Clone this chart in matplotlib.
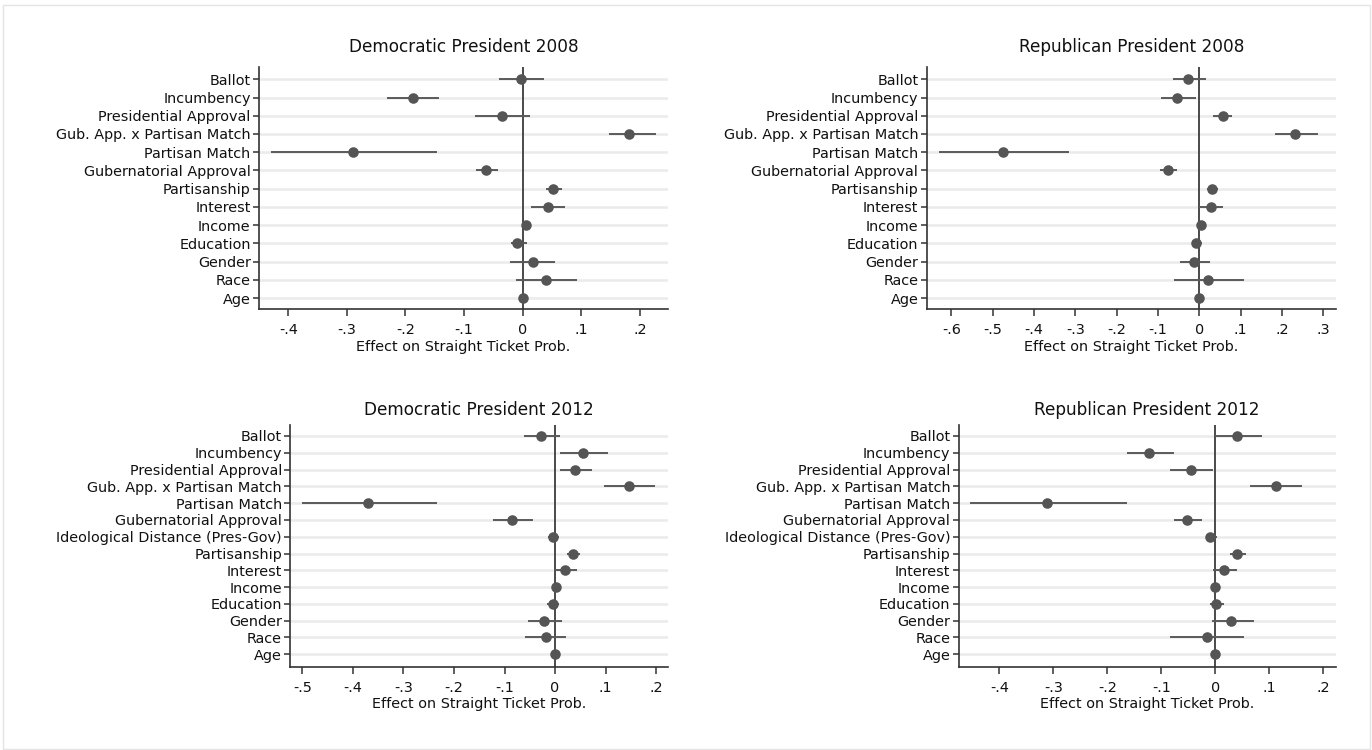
import matplotlib
matplotlib.use("Agg")
import matplotlib.pyplot as plt
from matplotlib.patches import Rectangle

plt.rcParams['font.family'] = ['DejaVu Sans']

# ---------------- data ----------------
labels_2008 = ["Ballot", "Incumbency", "Presidential Approval", "Gub. App. x Partisan Match",
               "Partisan Match", "Gubernatorial Approval", "Partisanship", "Interest",
               "Income", "Education", "Gender", "Race", "Age"]
labels_2012 = ["Ballot", "Incumbency", "Presidential Approval", "Gub. App. x Partisan Match",
               "Partisan Match", "Gubernatorial Approval", "Ideological Distance (Pres-Gov)",
               "Partisanship", "Interest", "Income", "Education", "Gender", "Race", "Age"]

dem08_est = [-0.003, -0.188, -0.035, 0.182, -0.289, -0.062, 0.052, 0.043, 0.006, -0.009, 0.017, 0.040, 0.000]
dem08_lo = [-0.041, -0.232, -0.081, 0.148, -0.430, -0.079, 0.039, 0.015, 0.002, -0.020, -0.022, -0.011, -0.002]
dem08_hi = [0.036, -0.142, 0.013, 0.228, -0.146, -0.042, 0.067, 0.073, 0.012, 0.007, 0.055, 0.093, 0.002]

rep08_est = [-0.027, -0.053, 0.056, 0.232, -0.476, -0.077, 0.030, 0.027, 0.004, -0.007, -0.014, 0.021, 0.000]
rep08_lo = [-0.065, -0.093, 0.034, 0.183, -0.630, -0.095, 0.019, -0.002, -0.002, -0.017, -0.048, -0.061, -0.002]
rep08_hi = [0.015, -0.009, 0.079, 0.286, -0.316, -0.053, 0.044, 0.058, 0.010, 0.006, 0.026, 0.108, 0.002]

dem12_est = [-0.027, 0.056, 0.040, 0.147, -0.370, -0.085, -0.005, 0.036, 0.020, 0.001, -0.005, -0.022, -0.018, -0.001]
dem12_lo = [-0.061, 0.010, 0.010, 0.097, -0.501, -0.122, -0.013, 0.024, -0.003, -0.004, -0.015, -0.053, -0.059, -0.003]
dem12_hi = [0.010, 0.104, 0.073, 0.197, -0.234, -0.044, 0.007, 0.050, 0.043, 0.006, 0.008, 0.013, 0.022, 0.001]

rep12_est = [0.041, -0.122, -0.044, 0.112, -0.312, -0.052, -0.009, 0.041, 0.017, 0.000, 0.002, 0.030, -0.015, 0.000]
rep12_lo = [0.000, -0.164, -0.083, 0.065, -0.454, -0.076, -0.017, 0.027, -0.004, -0.006, -0.009, -0.006, -0.083, -0.002]
rep12_hi = [0.086, -0.076, -0.004, 0.160, -0.164, -0.024, 0.003, 0.057, 0.041, 0.006, 0.017, 0.071, 0.054, 0.002]

titles = ["Democratic President 2008", "Republican President 2008",
          "Democratic President 2012", "Republican President 2012"]
xticks_dem08 = [-0.4, -0.3, -0.2, -0.1, 0, 0.1, 0.2]
xticks_rep08 = [-0.6, -0.5, -0.4, -0.3, -0.2, -0.1, 0, 0.1, 0.2, 0.3]
xticks_dem12 = [-0.5, -0.4, -0.3, -0.2, -0.1, 0, 0.1, 0.2]
xticks_rep12 = [-0.4, -0.3, -0.2, -0.1, 0, 0.1, 0.2]
xlabel = "Effect on Straight Ticket Prob."

W, H = 1372, 750
fig = plt.figure(figsize=(W / 100, H / 100), dpi=100)
fig.patch.set_facecolor("white")
fig.patches.append(Rectangle((3 / W, 1 - 749 / H), (1370 - 3) / W, (749 - 5) / H,
                             transform=fig.transFigure, fill=False,
                             edgecolor="#e4e4e4", linewidth=1.0))


def px_axes(left, right, top, bottom):
    return fig.add_axes([left / W, 1 - bottom / H, (right - left) / W, (bottom - top) / H])


def fmt(v):
    if abs(v) < 1e-9:
        return "0"
    s = "%.1f" % v
    return s.replace("0.", ".")


dot_color = "#555555"
line_color = "#5a5a5a"
FS = 10.4


def draw(ax, labels, est, lo, hi, xticks, xlim, ylim, title, tpad):
    n = len(labels)
    ys = list(range(n))
    for y in ys:
        ax.axhline(y, color="#ebebeb", linewidth=1.8, zorder=0)
    ax.axvline(0, color="#3c3c3c", linewidth=1.3, zorder=1)
    xerr = [[e - l for e, l in zip(est, lo)], [h - e for e, h in zip(est, hi)]]
    ax.errorbar(est, ys, xerr=xerr, fmt="o", color=dot_color, ecolor=line_color,
                elinewidth=1.4, capsize=4.2, capthick=1.3, markersize=7.6,
                markeredgewidth=0, zorder=3)
    ax.set_xlim(*xlim)
    ax.set_ylim(*ylim)
    ax.set_yticks(ys)
    ax.set_yticklabels(labels, fontsize=FS, color="#111111")
    ax.set_xticks(xticks)
    ax.set_xticklabels([fmt(v) for v in xticks], fontsize=FS, color="#111111")
    ax.set_xlabel(xlabel, fontsize=FS, color="#111111", labelpad=2)
    ax.set_title(title, fontsize=12.2, color="#111111", pad=tpad)
    for s in ["top", "right"]:
        ax.spines[s].set_visible(False)
    for s in ["left", "bottom"]:
        ax.spines[s].set_color("#333333")
        ax.spines[s].set_linewidth(1.2)
    ax.tick_params(axis="y", length=4, width=1.1, color="#333333", pad=2)
    ax.tick_params(axis="x", length=5, width=1.1, color="#333333", pad=5)


ax1 = px_axes(259, 668, 67, 309.3)
draw(ax1, labels_2008, dem08_est, dem08_lo, dem08_hi, xticks_dem08,
     (-0.45, 0.248), (12.62, -0.675), titles[0], 11)

ax2 = px_axes(926.7, 1335.7, 67, 309.3)
draw(ax2, labels_2008, rep08_est, rep08_lo, rep08_hi, xticks_rep08,
     (-0.66, 0.33), (12.62, -0.675), titles[1], 11)

ax3 = px_axes(290.3, 667.7, 425, 666.7)
draw(ax3, labels_2012, dem12_est, dem12_lo, dem12_hi, xticks_dem12,
     (-0.524, 0.223), (13.74, -0.655), titles[2], 7.5)

ax4 = px_axes(958.7, 1335.7, 425, 666.7)
draw(ax4, labels_2012, rep12_est, rep12_lo, rep12_hi, xticks_rep12,
     (-0.475, 0.223), (13.74, -0.655), titles[3], 7.5)

fig.savefig("out.png", dpi=100, facecolor="white")
